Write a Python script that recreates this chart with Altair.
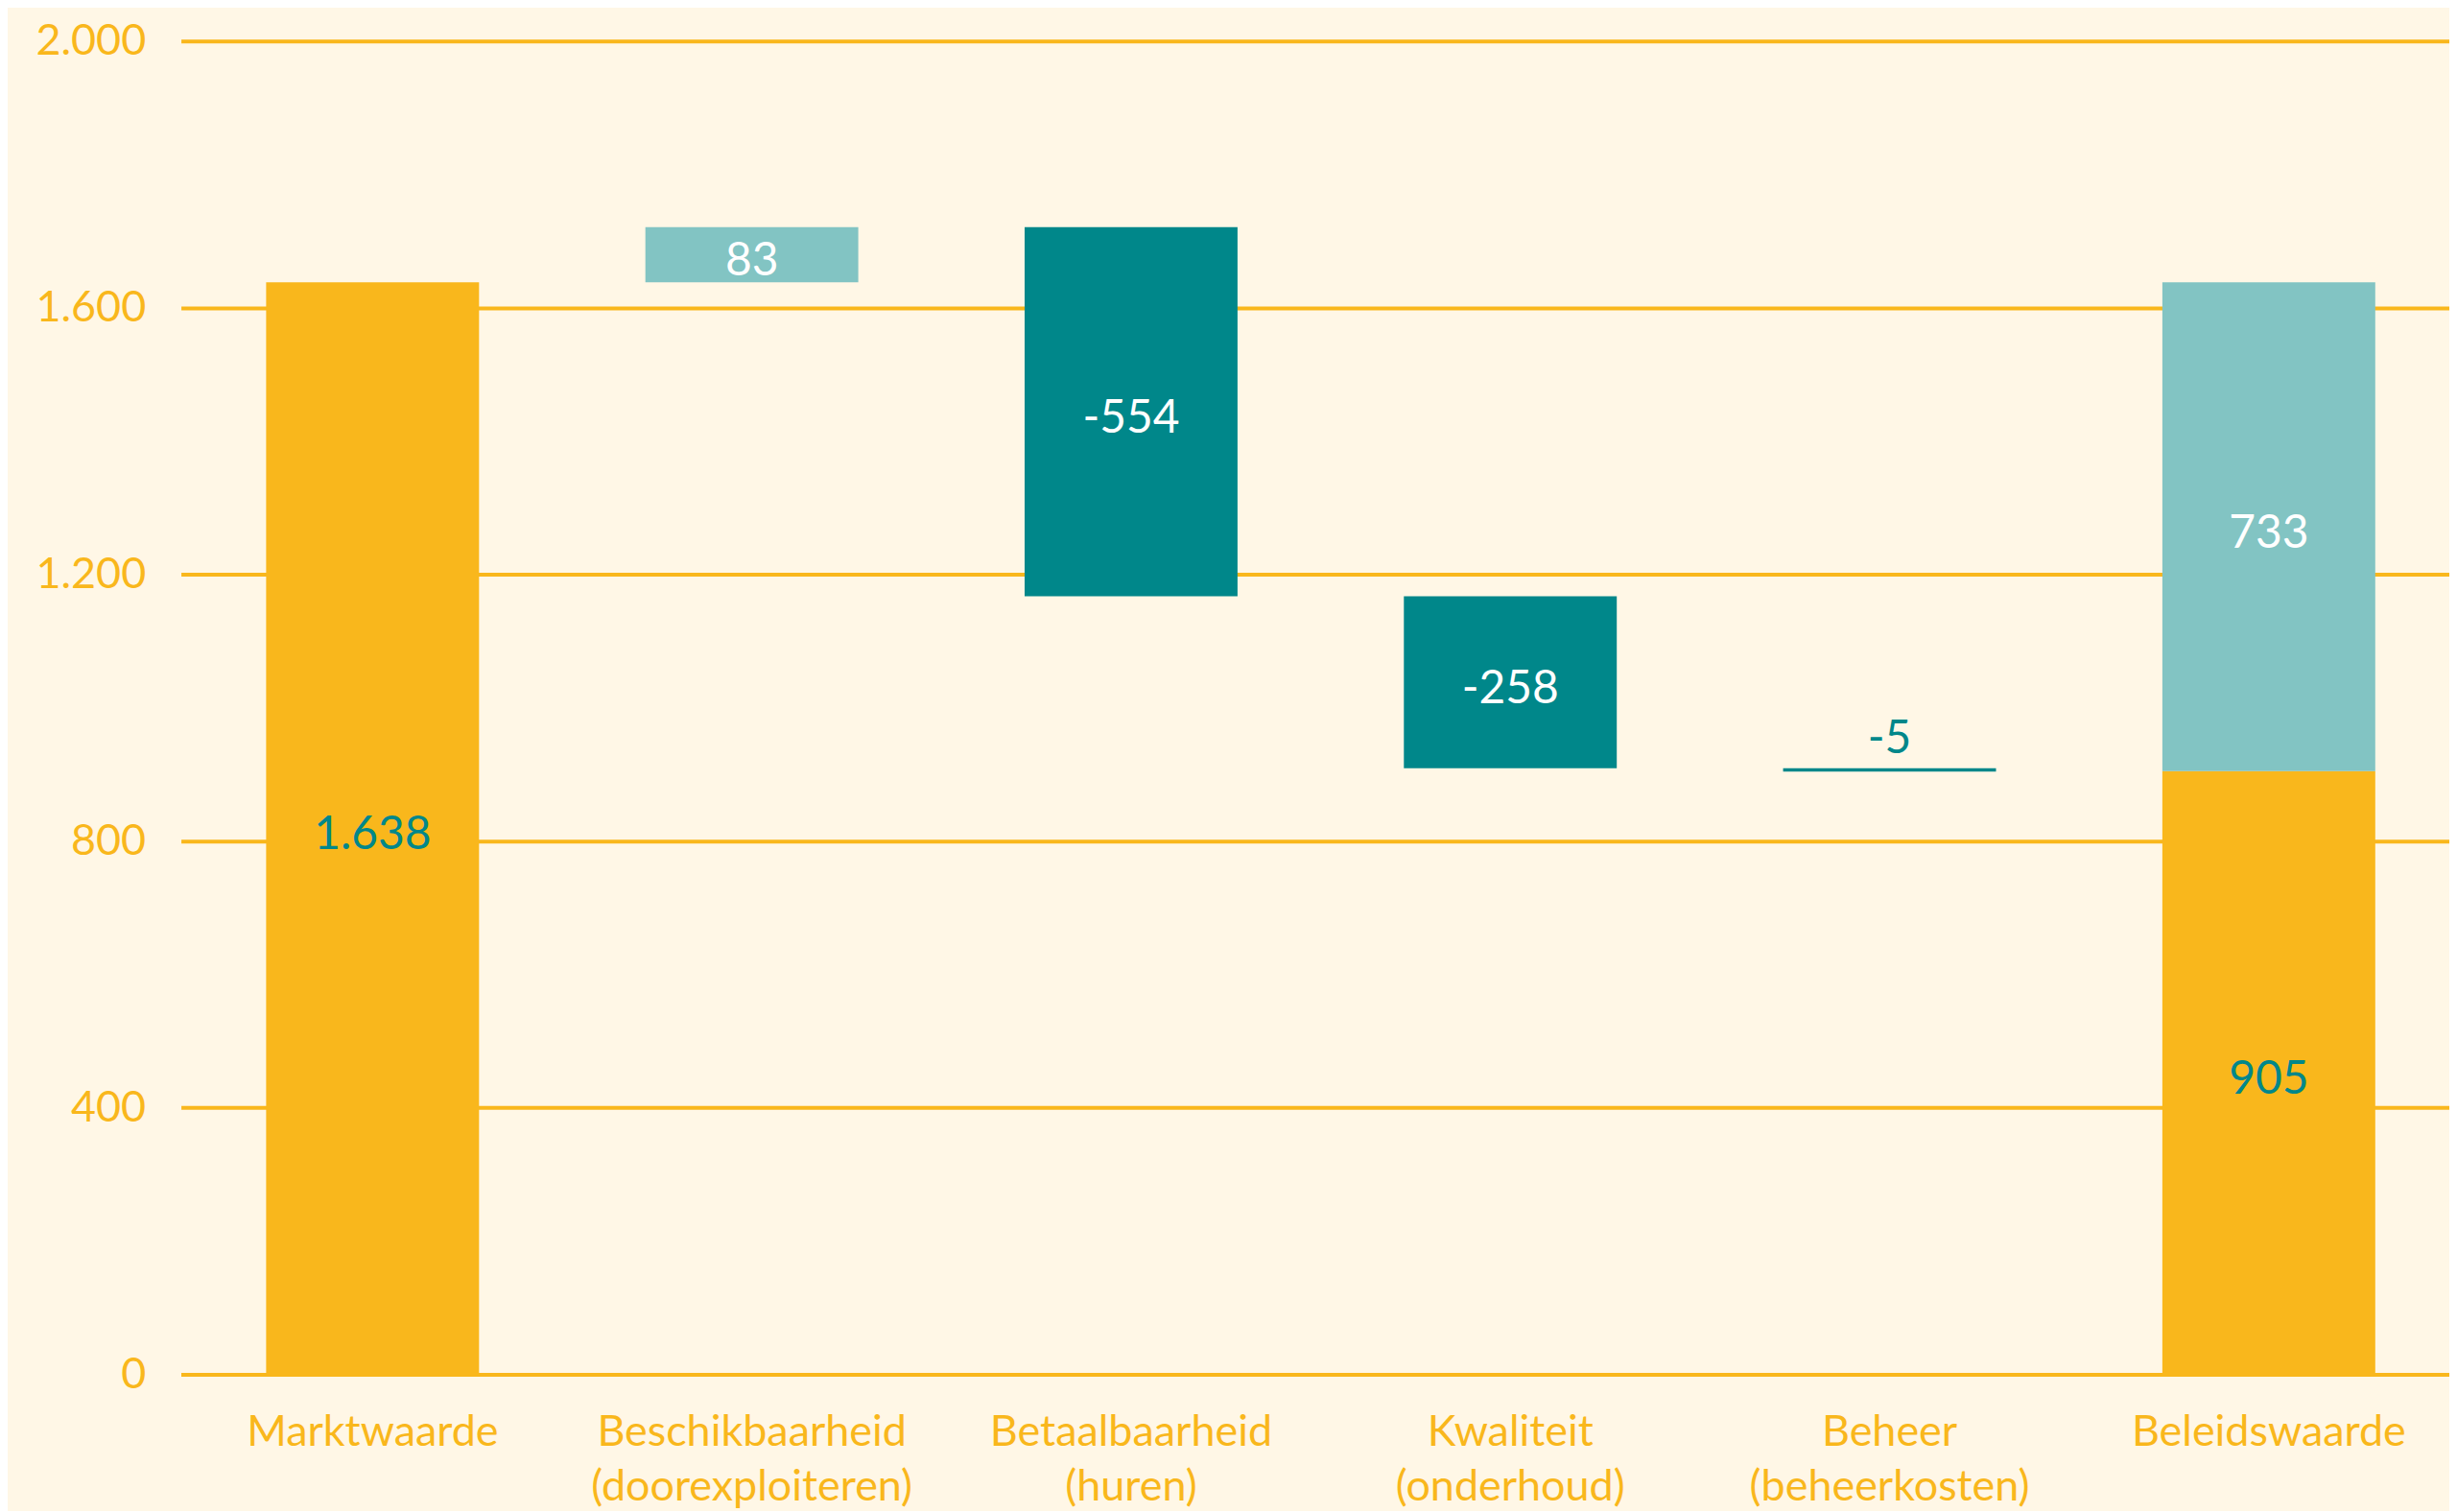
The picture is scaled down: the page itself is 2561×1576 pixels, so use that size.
import altair as alt
import pandas as pd

# ---- data ----
categories = [
    "Marktwaarde",
    "Beschikbaarheid|(doorexploiteren)",
    "Betaalbaarheid|(huren)",
    "Kwaliteit|(onderhoud)",
    "Beheer|(beheerkosten)",
    "Beleidswaarde",
]
start_value = 1638                 # Marktwaarde
step_values = [83, -554, -258, -5]  # Beschikbaarheid, Betaalbaarheid, Kwaliteit, Beheer
end_parts = [905, 733]             # Beleidswaarde: beleidswaarde + verschil
y_ticks = [0, 400, 800, 1200, 1600, 2000]

ORANGE = "#F9B71C"
TEAL = "#00878A"
LTEAL = "#82C4C3"
BG = "#FFF7E6"
WHITE = "#FFFFFF"


def fmt(v):
    return f"{v:,}".replace(",", ".")


rows = []
rows.append(dict(cat=categories[0], start=0, end=start_value, kind="totaal",
                 label=fmt(start_value), tcolor=TEAL, pos="mid"))
level = start_value
for cat, v in zip(categories[1:5], step_values):
    new = level + v
    kind = "plus" if v > 0 else "min"
    pos = "mid" if abs(v) >= 40 else "above"
    tcol = WHITE if pos == "mid" else TEAL
    rows.append(dict(cat=cat, start=level, end=new, kind=kind,
                     label=fmt(v), tcolor=tcol, pos=pos))
    level = new
rows.append(dict(cat=categories[5], start=0, end=end_parts[0], kind="totaal",
                 label=fmt(end_parts[0]), tcolor=TEAL, pos="mid"))
rows.append(dict(cat=categories[5], start=end_parts[0], end=end_parts[0] + end_parts[1],
                 kind="plus", label=fmt(end_parts[1]), tcolor=WHITE, pos="mid"))

df = pd.DataFrame(rows)
df["mid"] = (df["start"] + df["end"]) / 2
df["top"] = df[["start", "end"]].max(axis=1)

FONT = "Lato"

x_enc = alt.X(
    "cat:N", sort=categories, title=None,
    scale=alt.Scale(paddingInner=0.4386, paddingOuter=0.21, align=0.535),
    axis=alt.Axis(
        labelExpr="split(datum.value, '|')",
        labelAngle=0, labelFont=FONT, labelFontSize=45, labelColor=ORANGE,
        labelLineHeight=57, labelPadding=38, labelBaseline="top", labelLimit=0,
        ticks=False, domain=True, domainColor=ORANGE, domainWidth=4,
        grid=False,
    ),
)

y_scale = alt.Scale(domain=[0, 2000], nice=False)

bars = alt.Chart(df).mark_bar().encode(
    x=x_enc,
    y=alt.Y("start:Q", scale=y_scale, title=None,
            axis=alt.Axis(values=y_ticks,
                          labelExpr="replace(format(datum.value, ','), ',', '.')",
                          labelFont=FONT, labelFontSize=45, labelColor=ORANGE,
                          labelPadding=37, ticks=False, domain=False,
                          grid=True, gridColor=ORANGE, gridWidth=4)),
    y2="end:Q",
    color=alt.Color("kind:N", legend=None,
                    scale=alt.Scale(domain=["totaal", "plus", "min"],
                                    range=[ORANGE, LTEAL, TEAL])),
)

text_mid = alt.Chart(df).transform_filter("datum.pos == 'mid'").mark_text(
    font=FONT, fontSize=48, baseline="middle", dy=8
).encode(
    x=alt.X("cat:N", sort=categories),
    y=alt.Y("mid:Q", scale=y_scale),
    text="label:N",
    color=alt.Color("tcolor:N", scale=None),
)

text_above = alt.Chart(df).transform_filter("datum.pos == 'above'").mark_text(
    font=FONT, fontSize=48, baseline="alphabetic", dy=-16
).encode(
    x=alt.X("cat:N", sort=categories),
    y=alt.Y("top:Q", scale=y_scale),
    text="label:N",
    color=alt.Color("tcolor:N", scale=None),
)

chart = alt.layer(bars, text_mid, text_above).properties(
    width=2370, height=1393,
    autosize=alt.AutoSizeParams(type="none"),
    padding={"left": 181, "top": 33, "right": 0, "bottom": 141},
    background=BG,
).configure_view(stroke=None)

chart.save("out.html", embed_options={"renderer": "svg", "actions": False})
